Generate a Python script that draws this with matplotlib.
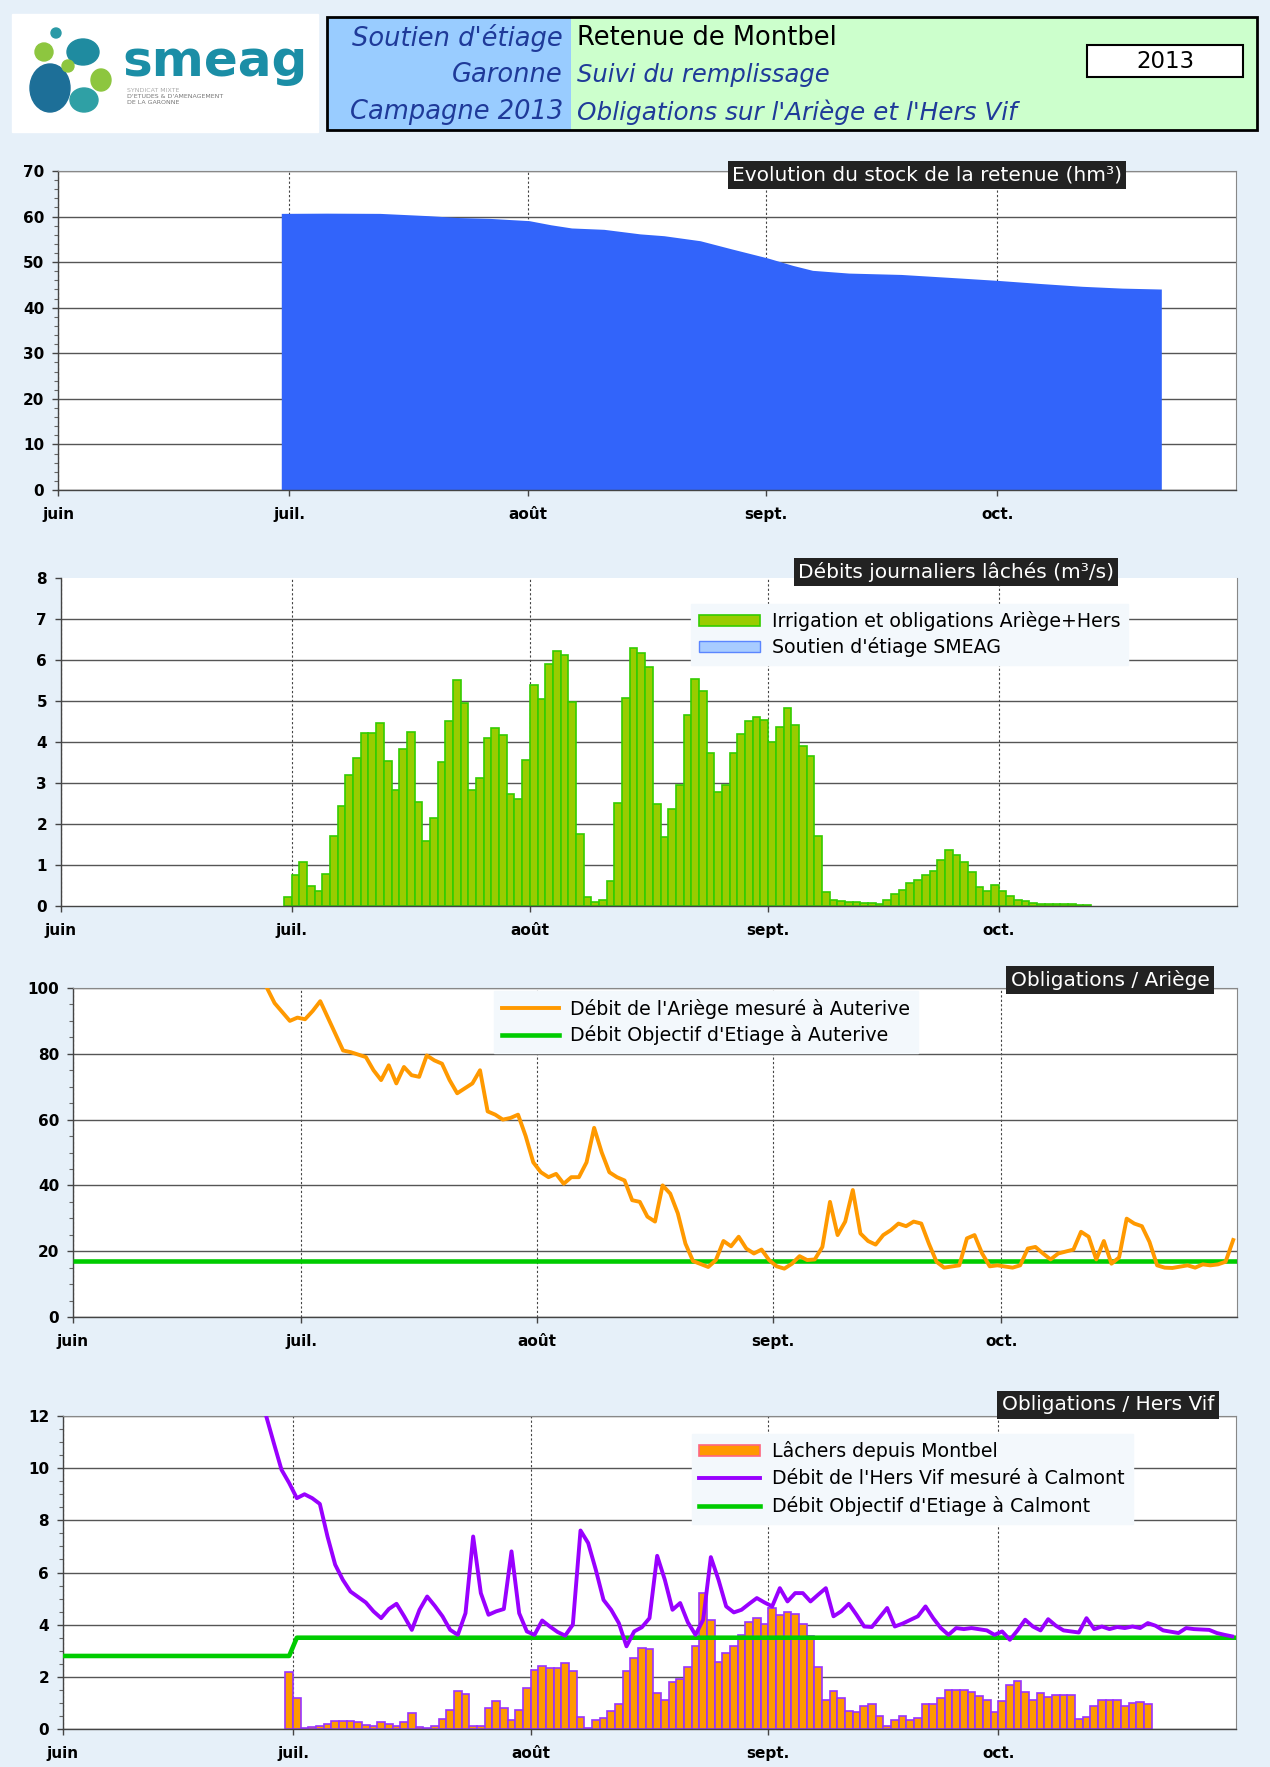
import matplotlib
matplotlib.use('Agg')
import matplotlib.pyplot as plt
from matplotlib.patches import Rectangle, Ellipse, Patch
from matplotlib.lines import Line2D
from matplotlib.ticker import MultipleLocator, FixedLocator
import numpy as np

W, H, DPI = 1270, 1767, 100
plt.rcParams['font.family'] = ['DejaVu Sans']

# ------------------------------------------------------------------ data
# day index: 0 = 1 June 2013
month_ticks = [0, 30, 61, 92, 122]
month_labels = ['juin', 'juil.', 'août', 'sept.', 'oct.']
X_END = 153

# stock of the reservoir (hm3)
stock_days = [29.0, 34.9, 41.8, 48.1, 51.8, 56.1, 61.2, 64.0, 66.7, 70.9, 75.6, 78.7,
              83.4, 87.5, 92.2, 95.4, 98.0, 102.7, 109.5, 117.3, 122.0, 127.7, 133.0,
              138.2, 143.3]
stock_vals = [60.7, 60.75, 60.7, 60.2, 59.8, 59.6, 59.1, 58.2, 57.5, 57.2, 56.2, 55.8,
              54.7, 52.9, 50.9, 49.3, 48.2, 47.6, 47.3, 46.5, 46.0, 45.3, 44.7,
              44.3, 44.1]

# daily releases, first bar = 30 June (day 29)
release_start = 29
irrig = [0.22, 0.75, 1.07, 0.48, 0.36, 0.79, 1.70, 2.43, 3.19, 3.60,
         4.23, 4.23, 4.46, 3.54, 2.83, 3.82, 4.24, 2.54, 1.59, 2.15,
         3.52, 4.51, 5.50, 4.94, 2.84, 3.11, 4.09, 4.35, 4.17, 2.72,
         2.60, 3.56, 5.39, 5.04, 5.90, 6.23, 6.11, 4.98, 1.75, 0.22,
         0.10, 0.14, 0.60, 2.52, 5.08, 6.29, 6.17, 5.84, 2.48, 1.69,
         2.37, 2.96, 4.66, 5.53, 5.25, 3.72, 2.77, 2.96, 3.72, 4.19,
         4.51, 4.60, 4.54, 4.00, 4.36, 4.84, 4.42, 3.90, 3.65, 1.71,
         0.34, 0.14, 0.12, 0.10, 0.10, 0.08, 0.07, 0.05, 0.15, 0.30,
         0.38, 0.56, 0.64, 0.75, 0.85, 1.12, 1.36, 1.24, 1.08, 0.83,
         0.46, 0.36, 0.50, 0.36, 0.25, 0.15, 0.12, 0.08, 0.05, 0.04,
         0.04, 0.05, 0.04, 0.03, 0.02]

lachers = [2.17, 1.19, 0.04, 0.08, 0.13, 0.20, 0.29, 0.29, 0.29, 0.26,
           0.17, 0.13, 0.27, 0.20, 0.10, 0.27, 0.61, 0.08, 0.05, 0.10,
           0.38, 0.74, 1.44, 1.35, 0.10, 0.10, 0.80, 1.06, 0.80, 0.33,
           0.72, 1.57, 2.25, 2.43, 2.34, 2.34, 2.53, 2.21, 0.46, 0.04,
           0.33, 0.42, 0.68, 0.97, 2.21, 2.72, 3.10, 3.07, 1.38, 1.10,
           1.79, 1.93, 2.38, 3.17, 5.21, 4.19, 2.55, 2.91, 3.19, 3.61,
           4.12, 4.24, 4.04, 4.64, 4.38, 4.47, 4.42, 4.04, 3.55, 2.38,
           1.10, 1.44, 1.19, 0.70, 0.64, 0.87, 0.97, 0.51, 0.10, 0.36,
           0.51, 0.36, 0.42, 0.97, 0.97, 1.19, 1.48, 1.48, 1.48, 1.40,
           1.28, 1.12, 0.64, 1.06, 1.70, 1.83, 1.40, 1.12, 1.38, 1.23,
           1.32, 1.32, 1.32, 0.38, 0.46, 0.87, 1.12, 1.12, 1.12, 0.89,
           1.00, 1.02, 0.97]

# Ariège flow at Auterive (m3/s)
ariege_days = [24, 25, 26, 28, 29, 30, 31, 32, 33, 34, 35, 36,
               38, 39, 40, 41, 42, 43, 44, 45, 46, 47, 48, 49, 50, 51, 52, 53, 54, 55, 56, 57, 58, 59,
               60, 61, 62, 63, 64, 65, 66, 67, 68, 69, 70, 71, 72, 73, 74, 75, 76, 77, 78, 79, 80, 81,
               83, 84, 85, 86, 87, 88, 89, 90, 91, 92, 93, 94, 95, 96, 97, 98, 99, 100, 101, 102,
               103, 104, 105, 106, 107, 108, 109, 110, 111, 112, 113, 114,
               116, 117, 118, 119, 120, 121,
               123, 124, 125, 126, 127, 128, 129,
               131, 132, 133, 134, 135, 136, 137, 138, 139, 140, 141, 142, 143, 144,
               146, 147, 148, 149, 150, 151, 152]
ariege_vals = [104, 100, 95.4, 90, 91, 90.5, 93, 96, 91, 86, 81, 80.5,
               79, 75, 72, 76.5, 71, 76, 73.5, 73, 79.5, 78, 77, 72, 68, 69.5, 71, 75, 62.5, 61.5, 60, 60.5, 61.5, 55,
               47, 44, 42.5, 43.5, 40.5, 42.5, 42.5, 47, 57.5, 50, 44, 42.5, 41.5, 35.5, 35, 30.5, 29, 40, 37.5, 31.5, 22.3, 17,
               15.2, 17.3, 23.1, 21.5, 24.4, 20.8, 19.3, 20.5, 17.3, 15.4, 14.7, 16.2, 18.5, 17.3, 17.5, 21.3, 35, 24.9, 29, 38.6,
               25.4, 23.1, 22, 24.9, 26.4, 28.4, 27.6, 29, 28.4, 22.3, 16.8, 15,
               15.7, 23.9, 24.9, 19.3, 15.4, 15.7,
               15, 15.7, 20.8, 21.3, 19.3, 17.5, 19.3,
               20.5, 25.9, 24.4, 17.5, 23.1, 16.2, 18.1, 29.9, 28.4, 27.6, 22.8, 15.7, 15, 14.9,
               15.7, 15, 16, 15.7, 16, 16.8, 23.4]
doe_ariege_x = [0, 153]
doe_ariege = [17, 17]

# Hers Vif flow at Calmont (m3/s)
hers_days = [25, 26, 27, 28, 29, 30, 31, 32, 33, 34, 35, 36, 37,
             39, 40, 41, 42, 43, 44, 45, 46, 47, 48, 49, 50, 51, 52, 53, 54, 55, 56, 57, 58, 59,
             60, 61, 62, 63, 64, 65, 66, 67, 68, 69, 70, 71, 72, 73, 74, 75, 76, 77, 78, 79,
             80, 81, 82, 83, 84, 85, 86, 87, 88, 89, 90, 91, 92, 93, 94, 95, 96, 97, 98, 99,
             100, 101, 102, 103, 104, 105, 107, 108, 109, 111, 112, 113, 114, 115, 116, 117, 118,
             120, 121, 122, 123, 124, 125, 126, 127, 128, 129, 130,
             132, 133, 134, 135, 136, 137, 138, 139, 140, 141, 142, 143,
             145, 146, 147, 149, 150, 151, 152]
hers_vals = [13.2, 12.0, 10.96, 9.94, 9.43, 8.85, 9.0, 8.85, 8.63, 7.38, 6.3, 5.72, 5.27,
             4.85, 4.51, 4.25, 4.6, 4.8, 4.32, 3.8, 4.57, 5.08, 4.72, 4.32, 3.8, 3.61, 4.44, 7.38, 5.21, 4.38, 4.51, 4.6, 6.81, 4.44,
             3.74, 3.61, 4.16, 3.93, 3.72, 3.58, 4.0, 7.61, 7.13, 6.1, 4.95, 4.57, 4.06, 3.17, 3.74, 3.9, 4.25, 6.64, 5.72, 4.57,
             4.83, 4.09, 3.61, 4.19, 6.59, 5.72, 4.7, 4.47, 4.57, 4.8, 5.02, 4.85, 4.7, 5.4, 4.89, 5.21, 5.21, 4.89, 5.15, 5.4,
             4.32, 4.51, 4.8, 4.38, 3.93, 3.91, 4.64, 3.93, 4.04, 4.32, 4.7, 4.25, 3.87, 3.61, 3.87, 3.83, 3.87,
             3.78, 3.61, 3.74, 3.42, 3.78, 4.19, 3.93, 3.78, 4.21, 3.96, 3.78,
             3.7, 4.25, 3.83, 3.93, 3.83, 3.91, 3.87, 3.93, 3.87, 4.06, 3.96, 3.78,
             3.68, 3.87, 3.83, 3.8, 3.68, 3.61, 3.55]
doe_hers_x = [0, 29.5, 30.5, 153]
doe_hers = [2.8, 2.8, 3.5, 3.5]

# ------------------------------------------------------------------ figure
BG = '#e6f0f9'
fig = plt.figure(figsize=(W / DPI, H / DPI), dpi=DPI, facecolor=BG)

bg = fig.add_axes([0, 0, 1, 1], zorder=-10)
bg.set_xlim(0, W)
bg.set_ylim(H, 0)
bg.axis('off')
bg.add_patch(Rectangle((0, 0), W, H, color=BG, zorder=0))

# logo
bg.add_patch(Rectangle((12, 14), 306, 118, color='white', zorder=1))
for (cx, cy, rx, ry, col) in [(56, 33, 5, 5, '#2a9aa6'), (44, 52, 9, 9, '#8dc63f'),
                              (83, 52, 16, 13, '#1f8ba0'), (50, 88, 20, 24, '#1d6f98'),
                              (101, 80, 10, 11, '#8dc63f'), (84, 100, 14, 12, '#2fa0a5'),
                              (68, 66, 6, 6, '#8dc63f')]:
    bg.add_patch(Ellipse((cx, cy), 2 * rx, 2 * ry, color=col, zorder=2))
bg.text(122, 62, 'smeag', fontsize=36, fontweight='bold', color='#1b8ea6',
        ha='left', va='center', zorder=3)
bg.text(127, 91, "SYNDICAT MIXTE", fontsize=4.5, color='#aaaaaa', ha='left', va='center', zorder=3)
bg.text(127, 97, "D'ETUDES & D'AMENAGEMENT", fontsize=4.5, color='#777777', ha='left', va='center', zorder=3)
bg.text(127, 103, "DE LA GARONNE", fontsize=4.5, color='#777777', ha='left', va='center', zorder=3)

# header box
bg.add_patch(Rectangle((327, 17), 244, 113, facecolor='#99ccff', edgecolor='none', zorder=1))
bg.add_patch(Rectangle((571, 17), 686, 113, facecolor='#ccffcc', edgecolor='none', zorder=1))
bg.add_patch(Rectangle((327, 17), 930, 113, facecolor='none', edgecolor='black', lw=2, zorder=2))
TXT_BLUE = '#1f3a99'
for y, t in [(38, "Soutien d'étiage"), (75, "Garonne"), (112, "Campagne 2013")]:
    bg.text(563, y, t, fontsize=18.5, style='italic', color=TXT_BLUE, ha='right', va='center', zorder=3)
bg.text(577, 38, "Retenue de Montbel", fontsize=18.5, color='black', ha='left', va='center', zorder=3)
bg.text(577, 75, "Suivi du remplissage", fontsize=17.5, style='italic', color=TXT_BLUE,
        ha='left', va='center', zorder=3)
bg.text(577, 112, "Obligations sur l'Ariège et l'Hers Vif", fontsize=17.8, style='italic',
        color=TXT_BLUE, ha='left', va='center', zorder=3)
bg.add_patch(Rectangle((1087, 45), 156, 32, facecolor='white', edgecolor='black', lw=1.5, zorder=2))
bg.text(1165, 61, "2013", fontsize=16.5, color='black', ha='center', va='center', zorder=3)


def add_panel(left, top, right, bottom):
    return fig.add_axes([left / W, 1 - bottom / H, (right - left) / W, (bottom - top) / H])


GRID_KW = dict(color='#555555', lw=1.0)


def style_axes(ax, ymax, ystep, yminor=None, top_line=True):
    ax.set_facecolor('white')
    ax.set_xlim(0, X_END)
    ax.set_ylim(0, ymax)
    ax.xaxis.set_major_locator(FixedLocator(month_ticks))
    ax.set_xticklabels(month_labels)
    ax.yaxis.set_major_locator(MultipleLocator(ystep))
    if yminor:
        ax.yaxis.set_minor_locator(MultipleLocator(yminor))
    ax.set_axisbelow(True)
    if top_line:
        ax.yaxis.grid(True, **GRID_KW)
    else:
        for v in np.arange(ystep, ymax, ystep):
            ax.axhline(v, zorder=0.5, **GRID_KW)
    ax.xaxis.grid(True, color='#444444', lw=0.8, ls=(0, (2, 2)))
    for s in ['left', 'bottom']:
        ax.spines[s].set_color('#444444')
        ax.spines[s].set_linewidth(1.0)
    ax.spines['right'].set_color('#888888')
    ax.spines['top'].set_color('#888888')
    ax.spines['top'].set_visible(top_line)
    ax.tick_params(axis='both', which='major', length=4, width=1, color='#444444',
                   labelsize=11, pad=6)
    ax.tick_params(axis='x', which='major', pad=8)
    ax.tick_params(axis='y', which='minor', length=3, width=0.8, color='#666666')
    for lab in ax.get_xticklabels() + ax.get_yticklabels():
        lab.set_fontweight('bold')


def title_box(x, y, text):
    fig.text(x / W, 1 - y / H, text, fontsize=14.5, color='white', ha='center', va='center',
             bbox=dict(boxstyle='square,pad=0.22', fc='#222222', ec='none'), zorder=10)


LEG_KW = dict(loc='upper left', fontsize=13.7, frameon=True, facecolor='#f3f8fc',
              edgecolor='#f3f8fc', framealpha=1, fancybox=False, borderpad=0.4,
              borderaxespad=0.0)

# ---------------- panel 1 : stock
ax1 = add_panel(58, 171, 1236, 490)
style_axes(ax1, 70, 10, 2)
ax1.fill_between(stock_days, stock_vals, 0, color='#3264fa', lw=0, zorder=2)
title_box(927, 175, "Evolution du stock de la retenue (hm³)")

# ---------------- panel 2 : releases
ax2 = add_panel(61, 578, 1237, 906)
style_axes(ax2, 8, 1, None, top_line=False)
x_irr = release_start + np.arange(len(irrig)) + 0.5
ax2.bar(x_irr, irrig, width=1.0, color='#99cc00', edgecolor='#33cc00', lw=1.2, zorder=2)
h_irr = Patch(facecolor='#99cc00', edgecolor='#33cc00', lw=1.2)
h_sou = Patch(facecolor='#a8ccff', edgecolor='#5b86ff', lw=1.0)
ax2.legend([h_irr, h_sou], ["Irrigation et obligations Ariège+Hers", "Soutien d'étiage SMEAG"],
           bbox_to_anchor=(0.536, 0.922), handlelength=3.2, handleheight=0.55,
           handletextpad=0.65, labelspacing=0.33, **LEG_KW)
title_box(956, 572, "Débits journaliers lâchés (m³/s)")

# ---------------- panel 3 : Ariège
ax3 = add_panel(73, 988, 1237, 1317)
style_axes(ax3, 100, 20, 5)
ax3.plot(doe_ariege_x, doe_ariege, color='#00cc00', lw=3.3, zorder=3, solid_capstyle='butt')
ax3.plot(np.array(ariege_days) + 0.5, ariege_vals, color='#ff9900', lw=2.8, zorder=4)
ax3.legend([Line2D([], [], color='#ff9900', lw=2.8), Line2D([], [], color='#00cc00', lw=3.3)],
           ["Débit de l'Ariège mesuré à Auterive", "Débit Objectif d'Etiage à Auterive"],
           bbox_to_anchor=(0.362, 0.99), handlelength=3.0, handletextpad=0.6,
           labelspacing=0.33, **LEG_KW)
title_box(1110, 980, "Obligations / Ariège")

# ---------------- panel 4 : Hers Vif
ax4 = add_panel(63, 1416, 1236, 1729)
style_axes(ax4, 12, 2, 0.5)
x_lach = release_start + np.arange(len(lachers)) + 0.5
ax4.bar(x_lach, lachers, width=1.0, color='#ff9900', edgecolor='#9933ff', lw=1.2, zorder=2)
ax4.plot(doe_hers_x, doe_hers, color='#00cc00', lw=3.3, zorder=3, solid_capstyle='butt')
ax4.plot(np.array(hers_days) + 0.5, hers_vals, color='#9900ff', lw=2.8, zorder=4)
ax4.legend([Patch(facecolor='#ff9900', edgecolor='#ff6680', lw=1.2),
            Line2D([], [], color='#9900ff', lw=2.8), Line2D([], [], color='#00cc00', lw=3.3)],
           ["Lâchers depuis Montbel", "Débit de l'Hers Vif mesuré à Calmont",
            "Débit Objectif d'Etiage à Calmont"],
           bbox_to_anchor=(0.536, 0.944), handlelength=3.2, handleheight=0.55,
           handletextpad=0.64, labelspacing=0.42, **LEG_KW)
title_box(1108, 1405, "Obligations / Hers Vif")

fig.savefig('out.png', dpi=DPI, facecolor=BG)
